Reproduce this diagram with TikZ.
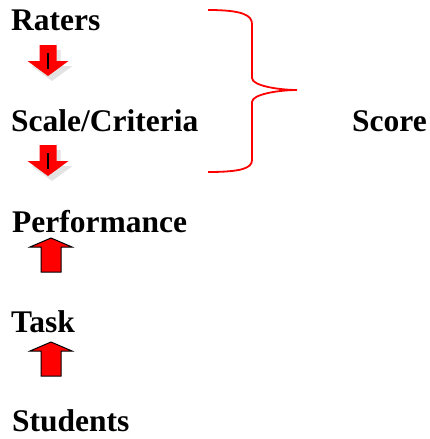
\documentclass[tikz,border=0pt]{standalone}
\usepackage{fontspec}
\setmainfont{Liberation Serif}
\usepackage{tikz}

\tikzset{
  stage/.style={font=\bfseries\fontsize{31.5}{36}\selectfont, inner sep=0pt, anchor=base west},
  pics/downarrow/.style={code={
      \fill[black!11] (-4.5,5) -- (12.5,5) -- (12.5,21) -- (24.5,21) -- (4,36) -- (-16.5,21) -- (-4.5,21) -- cycle;
      \fill[red] (-8.5,0) -- (8.5,0) -- (8.5,16) -- (20.5,16) -- (0,31) -- (-20.5,16) -- (-8.5,16) -- cycle;
      \draw[line width=1.3pt] (0,8) -- (0,24);
  }},
  pics/uparrow/.style={code={
      \draw[fill=red, line width=1pt, line join=miter] (-10,0) -- (10,0) -- (10,-25) -- (21,-25) -- (0,-34) -- (-21,-25) -- (-10,-25) -- cycle;
  }},
}

\begin{document}
\begin{tikzpicture}[x=1pt, y=-1pt]
  \useasboundingbox (0,0) rectangle (430,439);

  % the levels
  \node[stage] (raters) at (11,30) {Raters};
  \node[stage] (scale) at (11,131) {Scale/Criteria};
  \node[stage] (performance) at (12,232) {Performance};
  \node[stage] (task) at (11,332) {Task};
  \node[stage] (students) at (12,431) {Students};
  \node[stage] (score) at (352,131) {Score};

  % arrows between the levels
  \pic at (48,45) {downarrow};
  \pic at (48,145) {downarrow};
  \pic at (51,272) {uparrow};
  \pic at (51,376) {uparrow};

  % brace round the top two
  \coordinate (tip) at (297,90);
  \draw[red, line width=1.8pt]
    (208,10) .. controls (242,10) and (252,15) .. (252,24) -- (252,78)
    .. controls (252,86) and (280,90) .. (tip)
    .. controls (280,90) and (252,94) .. (252,102) -- (252,160)
    .. controls (252,168) and (242,172) .. (208,172);
\end{tikzpicture}
\end{document}
